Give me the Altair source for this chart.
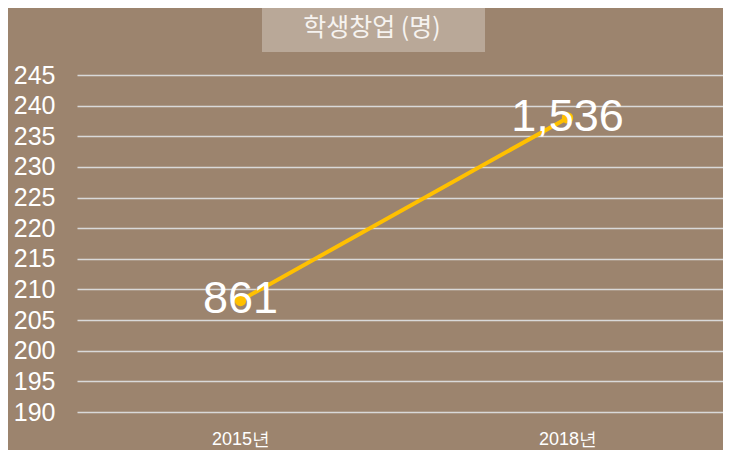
import altair as alt
import pandas as pd

years = ["2015년", "2018년"]
positions = [208.2, 238.0]
labels = ["861", "1,536"]
title_text = "학생창업 (명)"
y_ticks = list(range(190, 246, 5))

df = pd.DataFrame({"year": years, "pos": positions, "label": labels})

BG = "#9C846E"
FONT = "Liberation Sans"

x_enc = alt.X("year:N", sort=years, title=None,
              scale=alt.Scale(paddingInner=0, paddingOuter=0, range=[0, 654]),
              axis=alt.Axis(labelAngle=0, labelFontSize=18, labelColor="#FFFFFF",
                            labelFont=FONT, labelPadding=18, ticks=False, domain=False,
                            grid=False))
y_enc = alt.Y("pos:Q", title=None,
              scale=alt.Scale(domain=[190, 245], nice=False, zero=False),
              axis=alt.Axis(values=y_ticks, labelFontSize=25, labelColor="#FFFFFF",
                            labelFont=FONT, labelPadding=22, ticks=False, domain=False,
                            grid=True, gridColor="#D9D9D9", gridWidth=1.5, gridOpacity=1))

base = alt.Chart(df)

line = base.mark_line(color="#FFC000", strokeWidth=4).encode(x=x_enc, y=y_enc)
points = base.mark_point(filled=True, color="#FFC000", size=130, opacity=1).encode(x=x_enc, y=y_enc)
text = base.mark_text(fontSize=45, color="#FFFFFF", font=FONT, baseline="middle",
                      align="center", dy=-1).encode(x=x_enc, y=y_enc, text="label:N")

box = alt.Chart(pd.DataFrame({"t": [title_text]})).mark_rect(color="#B9A898").encode(
    x=alt.value(185), x2=alt.value(408), y=alt.value(-67), y2=alt.value(-23))
title = alt.Chart(pd.DataFrame({"t": [title_text]})).mark_text(
    fontSize=25, color="#F6F3F0", font="Noto Sans CJK KR", align="center",
    baseline="middle").encode(x=alt.value(295), y=alt.value(-47), text="t:N")

chart = alt.layer(line, points, text, box, title).properties(
    width=646, height=337,
    autosize=alt.AutoSizeParams(type="none"),
    padding={"left": 69, "top": 67, "right": 0, "bottom": 38},
    background=BG,
).configure_view(strokeWidth=0)

chart.save("out.html", embed_options={"renderer": "svg", "actions": False})
